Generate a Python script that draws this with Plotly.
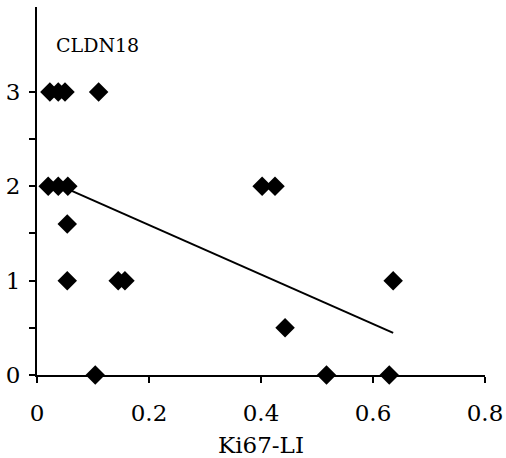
import plotly.graph_objects as go

# Data
ki67 = [0.023, 0.038, 0.050, 0.110,
        0.020, 0.038, 0.055, 0.402, 0.425,
        0.054,
        0.054, 0.145, 0.157, 0.636,
        0.443,
        0.104, 0.517, 0.629]
cldn18 = [3, 3, 3, 3,
          2, 2, 2, 2, 2,
          1.6,
          1, 1, 1, 1,
          0.5,
          0, 0, 0]
trend_x = [0.055, 0.636]
trend_y = [1.97, 0.447]

x_ticks = [0, 0.2, 0.4, 0.6, 0.8]
x_tick_labels = ["0", "0.2", "0.4", "0.6", "0.8"]
y_ticks = [0, 0.5, 1, 1.5, 2, 2.5, 3]
y_tick_labels = ["0", "", "1", "", "2", "", "3"]

FONT = "DejaVu Serif, Liberation Serif, serif"

fig = go.Figure()
fig.add_trace(go.Scatter(x=trend_x, y=trend_y, mode="lines",
                         line=dict(color="black", width=2), showlegend=False,
                         cliponaxis=False))
fig.add_trace(go.Scatter(x=ki67, y=cldn18, mode="markers",
                         marker=dict(symbol="diamond", size=15, color="black"),
                         showlegend=False, cliponaxis=False))

fig.add_annotation(text="CLDN18", xref="paper", x=(54 - 37) / 448, xanchor="left",
                   yref="y", y=3.5, yanchor="middle", showarrow=False,
                   font=dict(family=FONT, size=19, color="black"))

fig.update_layout(
    width=506, height=458,
    margin=dict(l=37, r=21, t=7, b=83),
    plot_bgcolor="white", paper_bgcolor="white",
    font=dict(family=FONT, size=23, color="black"),
    xaxis=dict(range=[0, 0.8], tickvals=x_ticks, ticktext=x_tick_labels,
               showgrid=False, zeroline=False, showline=True, linecolor="black",
               linewidth=2, ticks="outside", ticklen=6, tickwidth=2, tickcolor="black",
               automargin=False, ticklabelstandoff=10,
               title=dict(text="Ki67-LI", standoff=12, font=dict(family=FONT, size=23))),
    yaxis=dict(range=[0, 3.9], tickvals=y_ticks, ticktext=y_tick_labels,
               showgrid=False, zeroline=False, showline=True, linecolor="black",
               linewidth=2, ticks="outside", ticklen=6, tickwidth=2, tickcolor="black",
               automargin=False, ticklabelstandoff=4),
)

fig.write_html("out.html", config={"displayModeBar": False},
               post_script="document.body.style.margin='0';document.body.style.padding='0';")
